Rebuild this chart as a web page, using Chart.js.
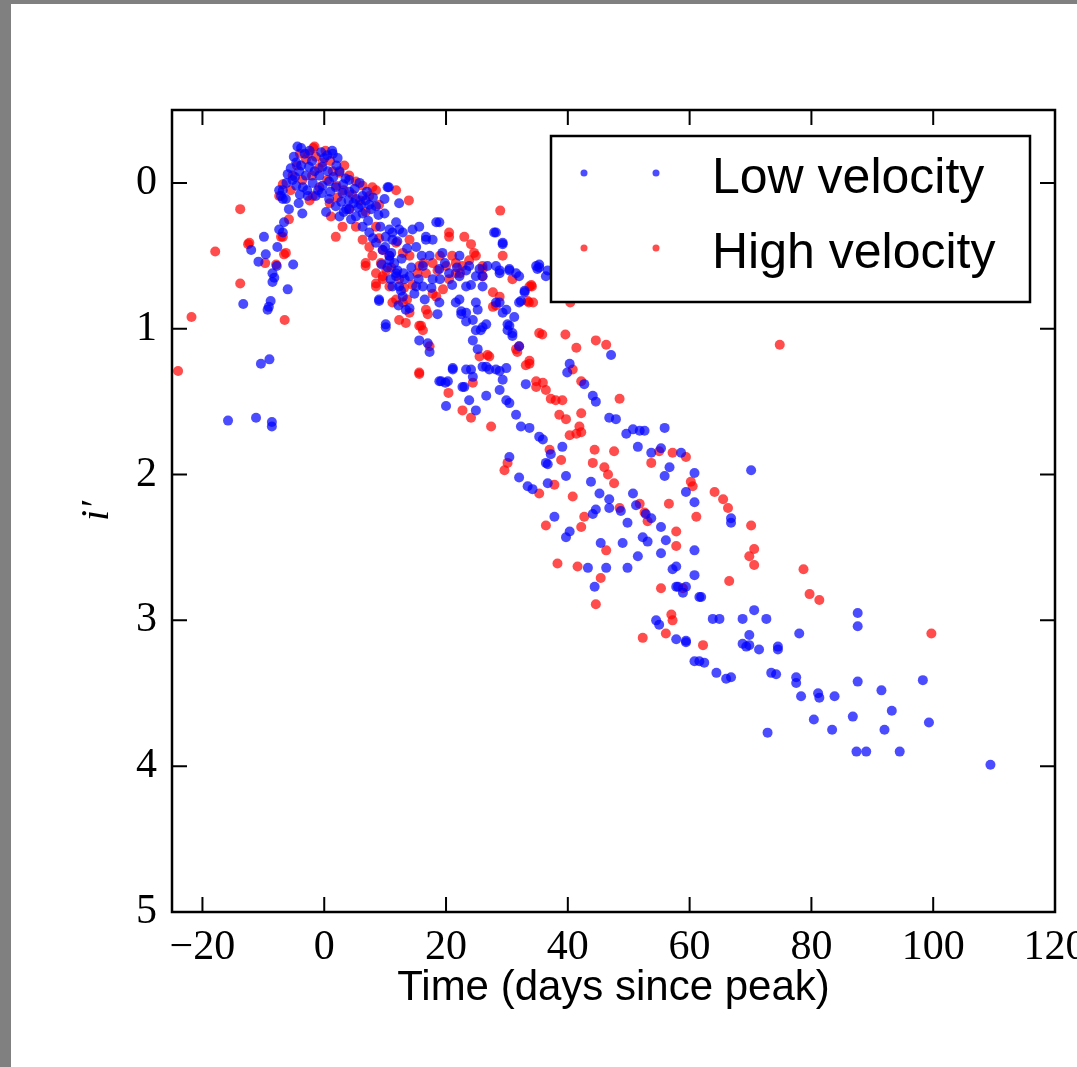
<!DOCTYPE html>
<html>
<head>
<meta charset="utf-8">
<title>i' light curves</title>
<script src="https://cdn.jsdelivr.net/npm/chart.js@4/dist/chart.umd.min.js"></script>
<style>
  html, body { margin: 0; padding: 0; background: #808080; }
  #wrap { position: absolute; left: 11px; top: 4px; width: 1066px; height: 1063px; background: #ffffff; }
  canvas { display: block; }
</style>
</head>
<body>
<div id="wrap"><canvas id="chart" width="1066" height="1063"></canvas></div>
<script>
// Tick values for both axes
const xTickValues = [-20, 0, 20, 40, 60, 80, 100, 120];
const yTickValues = [0, 1, 2, 3, 4, 5];

// Series labels
const seriesNames = ['Low velocity', 'High velocity'];

// Low-velocity objects: [days since peak, i' relative magnitude]
const lowVelocity = [
  [-15.8,1.63],[-11.2,1.61],[-8.6,1.64],[-8.6,1.67],[-10.4,1.24],[-9.0,1.21],
  [-13.3,0.83],[-9.1,0.85],[-9.3,0.87],[-8.8,0.81],
  [-9.9,0.37],[-12.0,0.46],[-9.6,0.49],[-10.8,0.54],[-5.1,0.56],[-7.8,0.57],[-8.2,0.65],[-8.5,0.68],[-6.0,0.73],[-8.5,0.62],
  [-7.7,0.44],[-6.8,0.34],[-7.4,0.32],[-6.6,0.27],[-3.6,0.21],[-2.7,0.09],[-7.4,0.05],[-6.8,0.11],[-6.3,0.11],[-7.1,0.09],
  [-3.8,-0.24],[-4.4,-0.25],[1.3,-0.22],[1.4,-0.20],[-4.6,-0.14],[-6.0,-0.06],[-5.2,-0.02],[-6.8,0.05],
  [-3.0,-0.05],[-1.9,0.0],[-0.8,-0.05],[-0.3,0.02],[0.8,-0.01],[1.9,0.03],[3.0,0.07],[4.1,0.06],[5.2,0.11],[6.3,0.09],
  [7.4,0.15],[5.8,0.0],[4.1,-0.02],[2.5,-0.08],[-0.3,-0.11],[-2.5,-0.11],[-4.1,-0.08],[-4.6,0.02],[-1.4,0.09],[0.8,0.11],
  [1.9,0.16],[3.6,0.18],[6.3,0.21],[7.7,0.18],[8.5,0.16],
  [-3.5,0.03],[-2.0,-0.15],[0.0,-0.17],[2.0,-0.12],[3.5,-0.03],[-1.0,0.05],[1.0,0.06],[2.8,0.13],[4.8,0.14],[6.8,0.12],
  [-5.5,-0.10],[-4.0,0.08],[0.3,0.20],[2.5,0.23],
  [-5.0,-0.18],[-3.2,-0.20],[-2.4,-0.22],[-0.5,-0.21],[0.5,-0.19],[2.2,-0.17],[-4.8,-0.04],[-3.8,-0.12],[-2.8,0.05],
  [-1.6,-0.08],[-0.4,0.07],[0.6,-0.08],[1.5,-0.04],[3.1,0.01],[4.0,0.12],[5.0,0.04],[6.0,0.15],[7.0,0.06],[8.0,0.10],
  [8.9,0.22],[7.2,0.26],[5.6,0.17],[4.4,0.25],[3.2,0.20],[-5.8,0.18],[-6.2,0.00],[-4.2,0.14],
  [4.1,0.18],[5.2,0.23],[6.3,0.30],[7.4,0.34],[8.5,0.41],[9.6,0.46],[10.7,0.53],[11.8,0.62],[12.3,0.71],[12.9,0.78],[9.0,0.80],
  [8.0,0.38],[9.2,0.30],[10.0,0.44],[10.4,0.58],[11.0,0.48],[11.5,0.55],[12.0,0.60],[12.7,0.52],[13.2,0.66],[13.6,0.45],
  [14.3,0.58],[14.8,0.76],[15.5,0.66],[16.0,0.50],[16.5,0.80],[17.6,0.72],[19.0,0.66],[19.8,0.55],[21.0,0.70],[21.8,0.58],
  [9.4,0.56],[10.9,0.66],[12.2,0.84],[13.0,0.62],
  [10.6,0.03],[10.4,0.03],[9.9,0.11],[12.3,0.14],[9.9,0.21],
  [10.7,0.32],[11.8,0.27],[10.1,0.37],[11.2,0.39],[12.9,0.34],[14.5,0.32],[15.6,0.30],[16.7,0.37],[17.8,0.39],[18.4,0.27],
  [18.9,0.27],[17.3,0.50],[16.2,0.57],[14.0,0.64],[15.1,0.71],[17.8,0.66],[18.9,0.59],[20.5,0.62],[22.2,0.64],[23.3,0.71],
  [23.8,0.57],[25.5,0.59],[26.0,0.64],[28.2,0.57],[28.8,0.62],[30.4,0.59],[31.5,0.62],
  [12.3,0.32],[11.2,0.34],[16.7,0.39],[15.1,0.44],[12.0,0.40],[10.7,0.50],[19.4,0.48],[22.2,0.50],[23.3,0.60],[24.9,0.64],
  [24.1,0.70],[26.0,0.71],[11.8,0.64],[11.2,0.71],[12.6,0.74],[13.4,0.87],[16.2,0.71],[18.9,0.82],[21.6,0.82],[22.5,0.90],
  [23.3,0.95],[10.1,0.97],[10.1,0.99],[9.0,0.81],[24.9,0.82],[30.1,0.97],[31.2,0.92],[32.0,0.82],[32.0,0.64],[32.9,0.75],
  [27.9,0.34],[29.3,0.42],[34.8,0.57],[26.8,0.57],[28.8,0.60],[30.4,0.60],[35.3,0.58],[35.3,0.56],[36.7,0.60],[32.9,0.74],
  [32.3,0.81],[35.0,0.59],[36.4,0.64],[29.3,0.41],[28.2,0.34],
  [22.2,0.80],[23.3,0.89],[24.4,0.94],[24.9,1.01],[26.0,0.99],[28.2,0.82],[29.3,0.89],[30.1,1.01],[30.9,1.05],[32.0,1.12],
  [28.2,1.28],[29.3,1.35],[26.6,1.26],[24.4,1.33],[21.1,1.27],[18.9,1.36],[19.9,1.37],[22.7,1.40],
  [14.0,0.86],[18.6,0.90],[22.5,0.88],[25.2,0.87],[28.8,0.82],[29.9,0.87],[30.4,0.98],[30.9,1.03],[26.6,0.97],[25.7,1.01],
  [24.4,1.08],[25.2,1.14],[15.6,1.08],[17.0,1.10],[17.3,1.16],
  [21.1,1.28],[19.2,1.36],[20.3,1.36],[23.3,1.28],[24.1,1.28],[26.0,1.26],[27.1,1.28],[28.8,1.29],[29.9,1.27],[23.0,1.40],
  [20.0,1.53],[23.8,1.49],[24.9,1.56],[26.6,1.46],[28.8,1.42],[29.9,1.49],[30.4,1.51],[31.5,1.59],[32.3,1.67],[33.7,1.68],
  [33.1,1.38],[35.3,1.74],[35.9,1.76],[36.4,1.92],[37.2,1.86],[39.1,1.81],[40.3,1.24],[39.9,1.30],[42.7,1.38],[44.1,1.46],
  [44.6,1.50],[47.1,1.18],[46.8,1.61],[47.9,1.62],[49.6,1.72],[50.7,1.69],[51.8,1.70],[52.6,1.70],[55.9,1.68],[51.5,1.81],
  [53.7,1.85],[55.3,1.82],[58.6,1.85],[45.2,2.13],[46.8,2.17],[43.8,2.05],[39.7,2.01],[36.7,2.06],[36.7,1.93],[30.4,1.88],
  [32.0,2.02],[33.4,2.08],[34.2,2.10],[55.9,2.01],[56.7,1.95],[60.8,1.99],[59.4,2.12],[60.8,2.19],[50.7,2.13],[46.8,2.23],
  [48.7,2.25],[49.8,2.33],[51.2,2.21],[52.8,2.27],[53.7,2.30],[44.1,2.27],[44.6,2.24],[37.8,2.29],[39.7,2.43],[40.3,2.39],
  [45.4,2.47],[49.0,2.47],[52.3,2.43],[53.1,2.46],[55.3,2.54],[56.1,2.45],[60.8,2.52],[51.5,2.56],[46.3,2.64],[43.3,2.64],
  [44.4,2.77],[49.8,2.64],[57.2,2.65],[57.8,2.63],[58.1,2.77],[60.8,2.69],[61.9,2.84],[70.1,1.97],[54.5,3.00],[55.0,3.03],
  [57.8,3.13],[59.4,3.15],[63.8,2.99],[64.9,2.99],[68.7,2.99],[70.6,2.93],[72.6,2.99],[68.7,3.16],[69.8,3.10],[74.5,3.18],
  [78.0,3.09],
  [66.8,2.30],[66.8,2.33],[55.3,2.36],[57.8,2.77],[59.4,2.77],[58.9,2.81],[61.6,2.84],[59.4,3.14],[69.3,3.18],[69.8,3.17],
  [71.4,3.20],[74.5,3.20],[60.8,3.28],[61.6,3.28],[62.4,3.29],[64.4,3.36],[66.0,3.40],[66.8,3.39],[73.4,3.36],[74.2,3.37],
  [77.5,3.39],[77.5,3.43],[78.3,3.52],[81.1,3.50],[81.3,3.53],[83.8,3.52],[87.6,2.95],[87.6,3.04],[87.6,3.42],[91.5,3.48],
  [98.3,3.41],[99.3,3.70],[93.2,3.62],[92.0,3.75],[86.8,3.66],[83.4,3.75],[80.4,3.68],[87.4,3.90],[89.0,3.90],[94.5,3.90],
  [72.8,3.77],[109.4,3.99]
];

// High-velocity objects: [days since peak, i' relative magnitude]
const highVelocity = [
  [-24.0,1.29],[-21.8,0.92],[-17.9,0.47],[-13.8,0.18],[-12.5,0.42],[-13.8,0.69],[-12.3,0.41],[-6.5,0.94],[-6.6,0.49],[-7.9,0.56],
  [-9.7,0.55],[-7.1,0.37],[-5.8,0.25],[-6.8,0.01],[-7.4,0.09],[-6.8,0.37],[-6.3,0.48],[-1.9,0.09],[-1.8,-0.24],[-1.6,-0.25],
  [-3.0,-0.16],[-1.4,-0.18],[-0.3,-0.14],[1.4,-0.08],[2.5,-0.07],[4.1,-0.05],[5.2,-0.01],[6.3,0.02],[7.4,0.09],[8.5,0.05],
  [1.1,0.23],[1.9,0.37],[3.0,0.30],[4.1,0.18],[5.2,0.30],[6.3,0.39],[7.4,0.44],[8.5,0.30],[9.6,0.46],[10.7,0.50],
  [11.8,0.41],[12.9,0.48],[14.0,0.39],[6.8,0.57],[8.5,0.62],[9.6,0.66],[10.7,0.71],[11.8,0.80],[12.9,0.82],[14.0,0.89],
  [15.6,0.98],[16.2,1.01],[17.3,1.12],[15.6,1.30],[12.3,0.94],[13.4,0.96],[8.5,0.71],[7.9,0.03],[11.8,0.05],[13.9,0.12],
  [-2.0,-0.05],[0.5,-0.02],[-4.5,-0.12],[-0.8,0.03],[2.0,0.02],[3.3,-0.12],[-5.5,0.05],
  [-3.6,-0.02],[-2.6,-0.20],[-0.9,-0.10],[0.2,-0.22],[1.0,-0.15],[3.2,0.05],[4.6,0.08],[5.9,0.12],[6.8,0.20],[9.0,0.15],
  [-4.0,-0.20],[-5.2,-0.05],[-2.4,0.12],[0.9,0.14],[2.2,0.10],[9.3,0.55],[10.2,0.60],[11.0,0.58],[12.3,0.66],[13.1,0.72],
  [14.5,0.70],[15.3,0.62],[16.3,0.55],[18.6,0.60],[19.0,0.50],[21.0,0.50],[22.3,0.62],[13.6,0.80],[7.9,0.50],[9.0,0.38],
  [16.7,0.87],[18.4,0.78],[19.5,0.73],[20.5,0.66],[21.6,0.62],[22.7,0.57],[23.8,0.53],[24.9,0.50],[26.0,0.59],[28.9,0.19],
  [29.3,0.50],[30.9,0.66],[33.7,0.71],[34.3,0.82],[35.3,1.03],[27.7,0.85],[28.8,0.78],[31.5,1.14],[33.7,1.24],[25.5,1.19],
  [27.1,1.19],[24.4,1.37],[34.8,1.40],
  [23.0,0.37],[20.5,0.37],[24.1,0.42],[24.6,0.48],[26.0,0.57],[26.0,0.64],[34.0,0.70],[33.4,0.81],[27.7,0.75],[28.2,0.84],
  [17.0,0.90],[17.8,0.76],[14.0,0.50],[15.6,0.57],[17.8,0.55],[16.7,0.62],[20.0,0.57],[21.6,0.55],[6.8,0.55],[8.5,0.69],
  [9.6,0.64],[11.2,0.82],[20.5,0.34],
  [34.1,0.71],[33.6,0.82],[40.4,0.82],[35.8,1.04],[39.6,1.04],[44.6,1.08],
  [15.9,0.98],[46.3,1.11],[41.4,1.13],[32.0,1.12],[31.7,1.16],[26.8,1.18],[74.8,1.11],[33.7,1.22],[33.1,1.25],[40.8,1.28],
  [15.6,1.31],[20.4,1.44],[34.8,1.36],[35.9,1.37],[36.4,1.42],[37.2,1.48],[38.0,1.49],[39.1,1.49],[42.2,1.36],[48.5,1.48],
  [38.6,1.59],[39.7,1.62],[42.2,1.58],[41.9,1.67],[42.2,1.71],[41.4,1.72],[40.3,1.73],[22.7,1.56],[24.1,1.61],[27.4,1.67],
  [44.4,1.83],[44.1,1.92],[47.6,1.84],[46.0,1.95],[46.6,2.00],[47.6,2.06],[38.9,1.90],[37.0,1.83],[29.6,1.97],[30.1,1.92],
  [35.3,2.13],[37.8,2.07],[40.8,2.15],[53.7,1.92],[55.0,1.84],[57.2,1.85],[59.4,1.88],[60.2,2.05],[60.5,2.08],[64.1,2.12],
  [65.5,2.17],[66.3,2.23],[70.1,2.35],[70.6,2.51],[69.8,2.56],[70.6,2.62],[66.5,2.73],[56.6,2.20],[61.1,2.29],[57.8,2.39],
  [57.8,2.49],[51.8,2.20],[52.6,2.26],[53.1,2.32],[48.5,2.23],[42.7,2.29],[42.2,2.36],[36.4,2.35],[46.3,2.52],[38.3,2.61],
  [41.6,2.63],[45.4,2.71],[44.6,2.89],[55.3,2.78],[58.9,2.78],[57.0,2.96],[57.2,3.00],[56.1,3.09],[52.3,3.12],[62.2,3.17],
  [78.7,2.65],[79.7,2.82],[81.3,2.86],[99.7,3.09]
];

const seriesColors = ['rgba(0, 0, 255, 0.7)', 'rgba(255, 0, 0, 0.7)'];

const toPoints = arr => arr.map(([x, y]) => ({ x, y }));

// Frame, inward tick marks on all four sides and the boxed legend
const axesDecor = {
  id: 'axesDecor',
  afterDatasetsDraw(chart) {
    const { ctx, chartArea: a, scales } = chart;
    const xs = scales.x, ys = scales.y;
    const tick = 15;
    ctx.save();
    ctx.strokeStyle = '#000';
    ctx.lineWidth = 2;
    ctx.beginPath();
    xTickValues.forEach(v => {
      const px = xs.getPixelForValue(v);
      ctx.moveTo(px, a.bottom); ctx.lineTo(px, a.bottom - tick);
      ctx.moveTo(px, a.top); ctx.lineTo(px, a.top + tick);
    });
    yTickValues.forEach(v => {
      const py = ys.getPixelForValue(v);
      ctx.moveTo(a.left, py); ctx.lineTo(a.left + tick, py);
      ctx.moveTo(a.right, py); ctx.lineTo(a.right - tick, py);
    });
    ctx.stroke();

    ctx.lineWidth = 2.5;
    ctx.strokeRect(a.left, a.top, a.right - a.left, a.bottom - a.top);

    // legend box in the upper right
    const lx = 540, ly = 132, lw = 479, lh = 166;
    ctx.fillStyle = '#fff';
    ctx.fillRect(lx, ly, lw, lh);
    ctx.lineWidth = 2.5;
    ctx.strokeRect(lx, ly, lw, lh);
    const rows = [169, 244];
    ctx.font = '50px "Liberation Sans", Arial, sans-serif';
    ctx.textBaseline = 'alphabetic';
    ctx.textAlign = 'left';
    rows.forEach((ry, i) => {
      ctx.fillStyle = seriesColors[i];
      [573, 645].forEach(mx => {
        ctx.beginPath();
        ctx.arc(mx, ry, 3.5, 0, Math.PI * 2);
        ctx.fill();
      });
      ctx.fillStyle = '#000';
      ctx.fillText(seriesNames[i], 701, ry + 20);
    });
    ctx.restore();
  }
};

new Chart(document.getElementById('chart'), {
  type: 'scatter',
  data: {
    datasets: [
      { label: seriesNames[0], data: toPoints(lowVelocity), backgroundColor: seriesColors[0], borderWidth: 0, pointRadius: 5 },
      { label: seriesNames[1], data: toPoints(highVelocity), backgroundColor: seriesColors[1], borderWidth: 0, pointRadius: 5 }
    ]
  },
  options: {
    responsive: false,
    animation: false,
    devicePixelRatio: 1,
    layout: { padding: { left: 62, top: 106, right: 22, bottom: 53 } },
    plugins: { legend: { display: false }, tooltip: { enabled: false } },
    scales: {
      x: {
        type: 'linear',
        min: -25,
        max: 120,
        afterBuildTicks: s => { s.ticks = xTickValues.map(v => ({ value: v })); },
        afterFit: s => { s.height = 102; s.paddingLeft = 0; s.paddingRight = 0; },
        grid: { display: false, drawTicks: false },
        border: { display: false },
        ticks: {
          padding: 11,
          autoSkip: false,
          maxRotation: 0,
          color: '#000',
          font: { family: '"Liberation Serif", "Times New Roman", serif', size: 42 },
          callback: v => (v < 0 ? '\u2212' + Math.abs(v) : String(v))
        },
        title: {
          display: true,
          text: 'Time (days since peak)',
          color: '#000',
          padding: 0,
          font: { family: '"Liberation Sans", Arial, sans-serif', size: 42 }
        }
      },
      y: {
        type: 'linear',
        min: -0.5,
        max: 5,
        reverse: true,
        afterBuildTicks: s => { s.ticks = yTickValues.map(v => ({ value: v })); },
        afterFit: s => { s.width = 99; s.paddingTop = 0; s.paddingBottom = 0; },
        grid: { display: false, drawTicks: false },
        border: { display: false },
        ticks: {
          padding: 15,
          color: '#000',
          font: { family: '"Liberation Serif", "Times New Roman", serif', size: 42 },
          callback: v => String(v)
        },
        title: {
          display: true,
          text: 'i\u2032',
          color: '#000',
          padding: 0,
          font: { family: '"Liberation Serif", "Times New Roman", serif', size: 40, style: 'italic' }
        }
      }
    }
  },
  plugins: [axesDecor]
});
</script>
</body>
</html>
